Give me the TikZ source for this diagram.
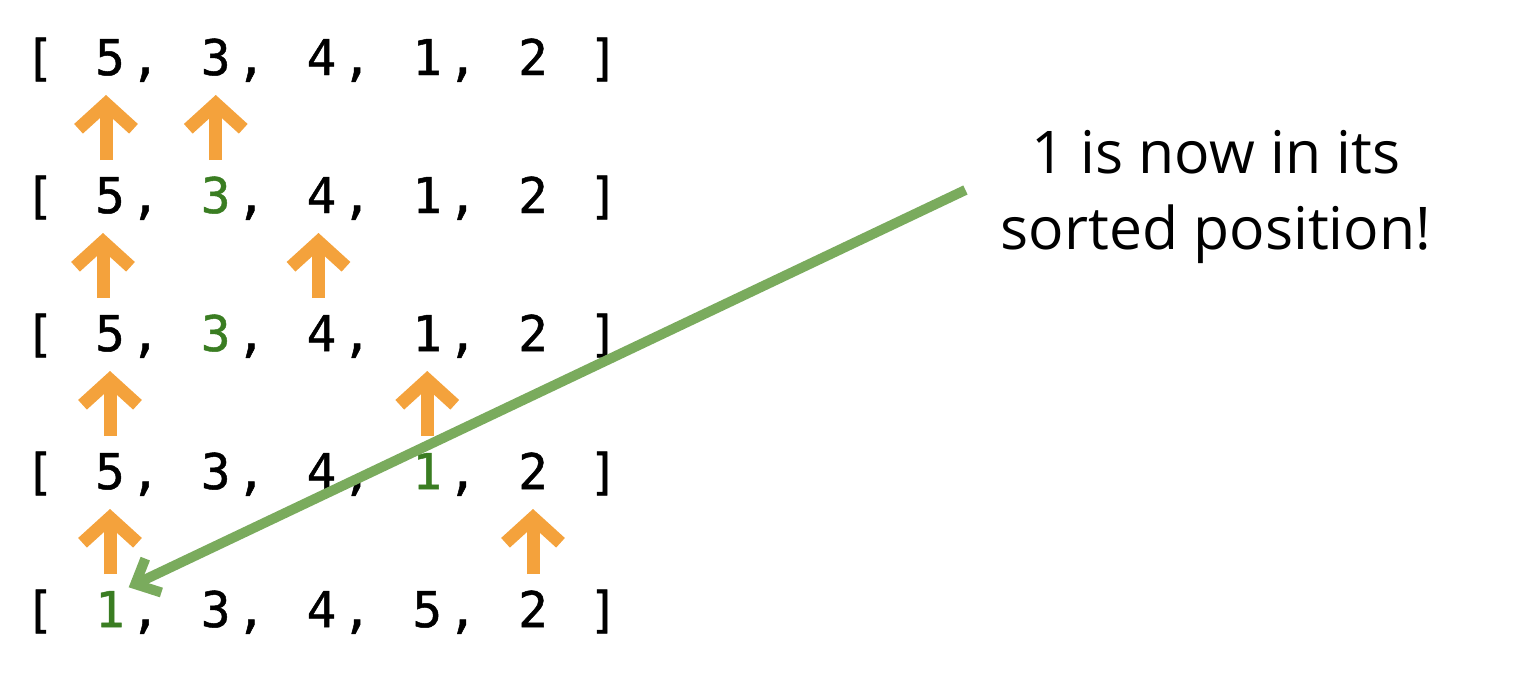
\documentclass[tikz,border=0pt]{standalone}
\usepackage{fontspec}
\setmainfont{Open Sans}
\newfontfamily\codefont[FakeBold=1]{DejaVu Sans Mono}
\usetikzlibrary{arrows.meta,calc,positioning}

\definecolor{pointerorange}{HTML}{F4A23C}
\definecolor{notegreen}{HTML}{7AAB5D}
\definecolor{donegreen}{HTML}{3A7D22}

\tikzset{
    num/.style={font=\codefont\fontsize{28}{34}\selectfont, inner sep=2pt, anchor=base},
    pointer/.style={draw=pointerorange, line width=0.26cm,
        -{Straight Barb[sharp,length=0.5cm,width=1.1cm]}},
    note/.style={font=\fontsize{33.5}{43.7}\selectfont, align=center, inner sep=0pt},
    sorted/.style={draw=notegreen, line width=0.2cm,
        -{Straight Barb[sharp,length=0.4cm,width=0.75cm]}}
}

\begin{document}
\begin{tikzpicture}[x=0.02cm,y=-0.02cm]
    \useasboundingbox (0,0) rectangle (1520,676);
    % the array, one row per step
    \foreach \vals [count=\r] in {
        {5/black,3/black,4/black,1/black,2/black},
        {5/black,3/donegreen,4/black,1/black,2/black},
        {5/black,3/donegreen,4/black,1/black,2/black},
        {5/black,3/black,4/black,1/donegreen,2/black},
        {1/donegreen,3/black,4/black,5/black,2/black}}{
        \node[num] (r\r open) at (39.5, {75+(\r-1)*138}) {[};
        \foreach \d/\c [count=\k] in \vals
            \node[num, text=\c] (r\r c\k) at ({110+(\k-1)*105.75}, {75+(\r-1)*138}) {\d};
        \foreach \k in {1,...,4}
            \node[num] (r\r comma\k) at ($(r\r c\k.base)+(35.25,0)$) {,};
        \node[num] (r\r close) at (603.5, {75+(\r-1)*138}) {]};
    }
    % the two compared entries
    \foreach \r/\k/\dx in {1/1/-4,1/2/0,2/1/-7,2/3/-3,3/1/0,3/4/0,4/1/0,4/5/0}
        \draw[pointer] ($(r\r c\k.base)+(\dx,85)$) -- ($(r\r c\k.base)+(\dx,20)$);
    \node[note] (note) at (1216,197) {1 is now in its\\sorted position!};
    \draw[sorted] ([yshift=0.14cm,xshift=-0.7cm]note.west) -- (r5c1.north east);
\end{tikzpicture}
\end{document}
